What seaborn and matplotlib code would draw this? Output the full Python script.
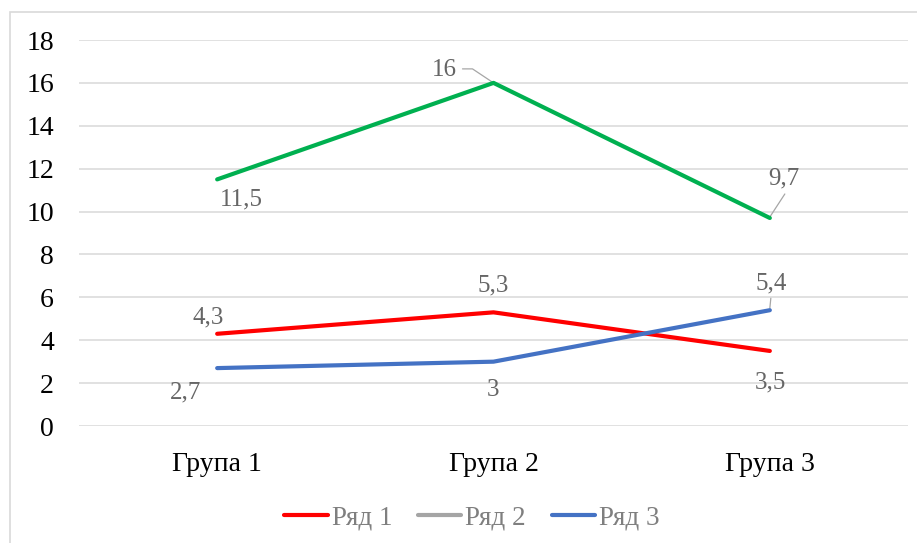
import pandas as pd
import matplotlib.pyplot as plt
import seaborn as sns
from matplotlib.lines import Line2D
from matplotlib.patches import Rectangle

# ---------- Data ----------
groups = ['Група 1', 'Група 2', 'Група 3']
series = ['Ряд 1', 'Ряд 2', 'Ряд 3']
row1 = [4.3, 5.3, 3.5]
row2 = [11.5, 16, 9.7]
row3 = [2.7, 3, 5.4]
yticks = [0, 2, 4, 6, 8, 10, 12, 14, 16, 18]

line_colors = {'Ряд 1': '#FF0000', 'Ряд 2': '#00B050', 'Ряд 3': '#4472C4'}
legend_colors = {'Ряд 1': '#FF0000', 'Ряд 2': '#A5A5A5', 'Ряд 3': '#4472C4'}
values = {'Ряд 1': row1, 'Ряд 2': row2, 'Ряд 3': row3}

df = pd.DataFrame({
    'group': groups * 3,
    'x': [0, 1, 2] * 3,
    'series': [s for s in series for _ in groups],
    'value': row1 + row2 + row3,
})

# label offsets in pixels (dx, dy) from each point
label_offsets = {
    ('Ряд 1', 0): (-9, 16), ('Ряд 1', 1): (0, 27), ('Ряд 1', 2): (1, -32),
    ('Ряд 2', 0): (24, -20), ('Ряд 2', 1): (-49, 13), ('Ряд 2', 2): (14, 40),
    ('Ряд 3', 0): (-32, -24), ('Ряд 3', 1): (0, -28), ('Ряд 3', 2): (1, 27),
}
# leader lines, pixel offsets from the point
leader_segs = {
    ('Ряд 2', 1): [(-31, 14), (-21, 14), (0, 0)],
    ('Ряд 2', 2): [(15, 24), (0, 1)],
    ('Ряд 3', 2): [(1, 12), (0, 2)],
}

# ---------- Plot ----------
sns.set_style('white')
plt.rcParams['font.family'] = ['Liberation Serif', 'DejaVu Serif']

fig = plt.figure(figsize=(9.17, 5.43), dpi=100)
fig.patches.append(Rectangle((10 / 917, -0.1), 1.2, 1 - 12 / 543 + 0.1,
                             transform=fig.transFigure, fill=False,
                             edgecolor='#D9D9D9', linewidth=1.2))
ax = fig.add_axes([79 / 917, 1 - 426 / 543, (908 - 79) / 917, (426 - 40) / 543])

sns.lineplot(data=df, x='x', y='value', hue='series', palette=line_colors,
             linewidth=3, ax=ax, legend=False, solid_capstyle='round')

ax.set_xlim(-0.5, 2.5)
ax.set_ylim(0, 18)
ax.set_yticks(yticks)
ax.set_xticks([0, 1, 2])
ax.set_xticklabels(groups)
ax.tick_params(axis='y', labelsize=20, pad=18, length=0, labelcolor='black')
ax.tick_params(axis='x', labelsize=20, pad=19, length=0, labelcolor='black')
ax.set_xlabel('')
ax.set_ylabel('')
ax.grid(axis='y', color='#D9D9D9', linewidth=1.1)
ax.set_axisbelow(True)
for sp in ax.spines.values():
    sp.set_visible(False)

# data labels
for s in series:
    for i, v in enumerate(values[s]):
        dx, dy = label_offsets[(s, i)]
        txt = f"{v:g}".replace('.', ',')
        ax.annotate(txt, (i, v), xytext=(dx, dy),
                    textcoords='offset pixels', ha='center', va='center',
                    fontsize=18, color='#666666')

for (s, i), pts in leader_segs.items():
    px, py = ax.transData.transform((i, values[s][i]))
    xs, ys = [], []
    for dx, dy in pts:
        X, Y = ax.transData.inverted().transform((px + dx, py + dy))
        xs.append(X)
        ys.append(Y)
    ax.plot(xs, ys, color='#A6A6A6', linewidth=0.9, zorder=1)

# legend
handles = [Line2D([0], [0], color=legend_colors[s], linewidth=3,
                  solid_capstyle='round', label=s) for s in series]
leg = fig.legend(handles=handles, loc='center', bbox_to_anchor=(472 / 917, 1 - 518 / 543),
                 ncol=3, frameon=False, fontsize=19.5, handlelength=1.6,
                 handletextpad=0.15, columnspacing=0.95)
for t in leg.get_texts():
    t.set_color('#7F7F7F')

fig.savefig('out.png', dpi=100)
plt.close(fig)
